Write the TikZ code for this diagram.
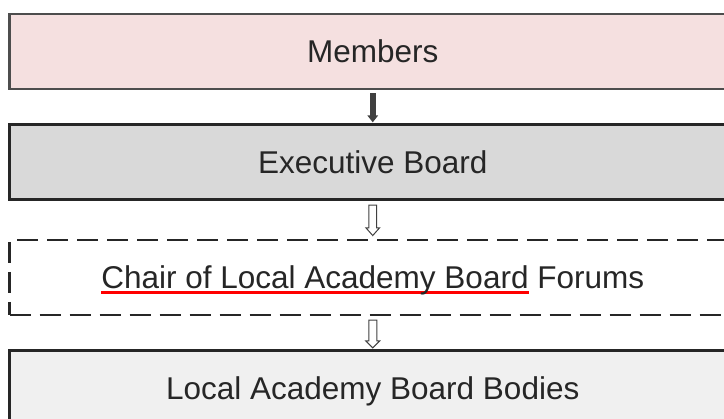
\documentclass[tikz,border=0pt]{standalone}
\usepackage{fontspec}
\setmainfont{Liberation Sans}
\usetikzlibrary{arrows.meta,calc}
\definecolor{pinkfill}{HTML}{F5E0E0}
\definecolor{execfill}{HTML}{D9D9D9}
\definecolor{localfill}{HTML}{F0F0F0}
\definecolor{bordergray}{HTML}{4D4D4D}
\definecolor{borderdark}{HTML}{262626}
\definecolor{textdark}{HTML}{262626}
\definecolor{arrowgray}{HTML}{404040}
\newsavebox\myulbox
\newcommand\redunder[1]{\sbox\myulbox{#1}\rlap{\color{red}\rule[-5.2pt]{\wd\myulbox}{2.5pt}}\usebox\myulbox}
\tikzset{
  orgbox/.style={rectangle, minimum width=726.5pt, minimum height=75pt, inner sep=0pt,
    line width=2.3pt, text=textdark, font=\fontsize{31.5}{36}\selectfont,
    text height=22.5pt, text depth=0pt},
  dashedbox/.style={orgbox, draw=borderdark, fill=white, dash pattern=on 21pt off 9pt},
  solidarrow/.style={line width=5.5pt, draw=arrowgray, -{Triangle[length=7pt,width=10.5pt]}},
  hollowarrow/.style={draw=arrowgray, line width=1pt, fill=white, line join=miter}
}
\begin{document}
\begin{tikzpicture}[x=1pt,y=-1pt]
\useasboundingbox (0,0) rectangle (724,419);
\node[orgbox, draw=bordergray, fill=pinkfill] (mem) at (372.75,51.5) {Members};
\node[orgbox, draw=borderdark, fill=execfill] (exe) at (372.75,162) {Executive Board};
\node[dashedbox] (chair) at (372.75,277.5) {\redunder{Chair of Local Academy Board} Forums};
\node[orgbox, draw=borderdark, fill=localfill] (local) at (372.75,388) {Local Academy Board Bodies};
\draw[solidarrow] ([yshift=-3pt]mem.south) -- ([yshift=1pt]exe.north);
\draw[hollowarrow] let \p1=(exe.south), \p2=(chair.north) in
  (\x1-3.8pt,\y1-4.5pt) -- (\x1+3.8pt,\y1-4.5pt) -- (\x1+3.8pt,\y2+11pt) --
  (\x1+6.8pt,\y2+11pt) -- (\x1,\y2+3.3pt) -- (\x1-6.8pt,\y2+11pt) --
  (\x1-3.8pt,\y2+11pt) -- cycle;
\draw[hollowarrow] let \p1=(chair.south), \p2=(local.north) in
  (\x1-4pt,\y1-4pt) -- (\x1+4pt,\y1-4pt) -- (\x1+4pt,\y2+8.5pt) --
  (\x1+7pt,\y2+8.5pt) -- (\x1,\y2+1.5pt) -- (\x1-7pt,\y2+8.5pt) --
  (\x1-4pt,\y2+8.5pt) -- cycle;
\end{tikzpicture}
\end{document}
